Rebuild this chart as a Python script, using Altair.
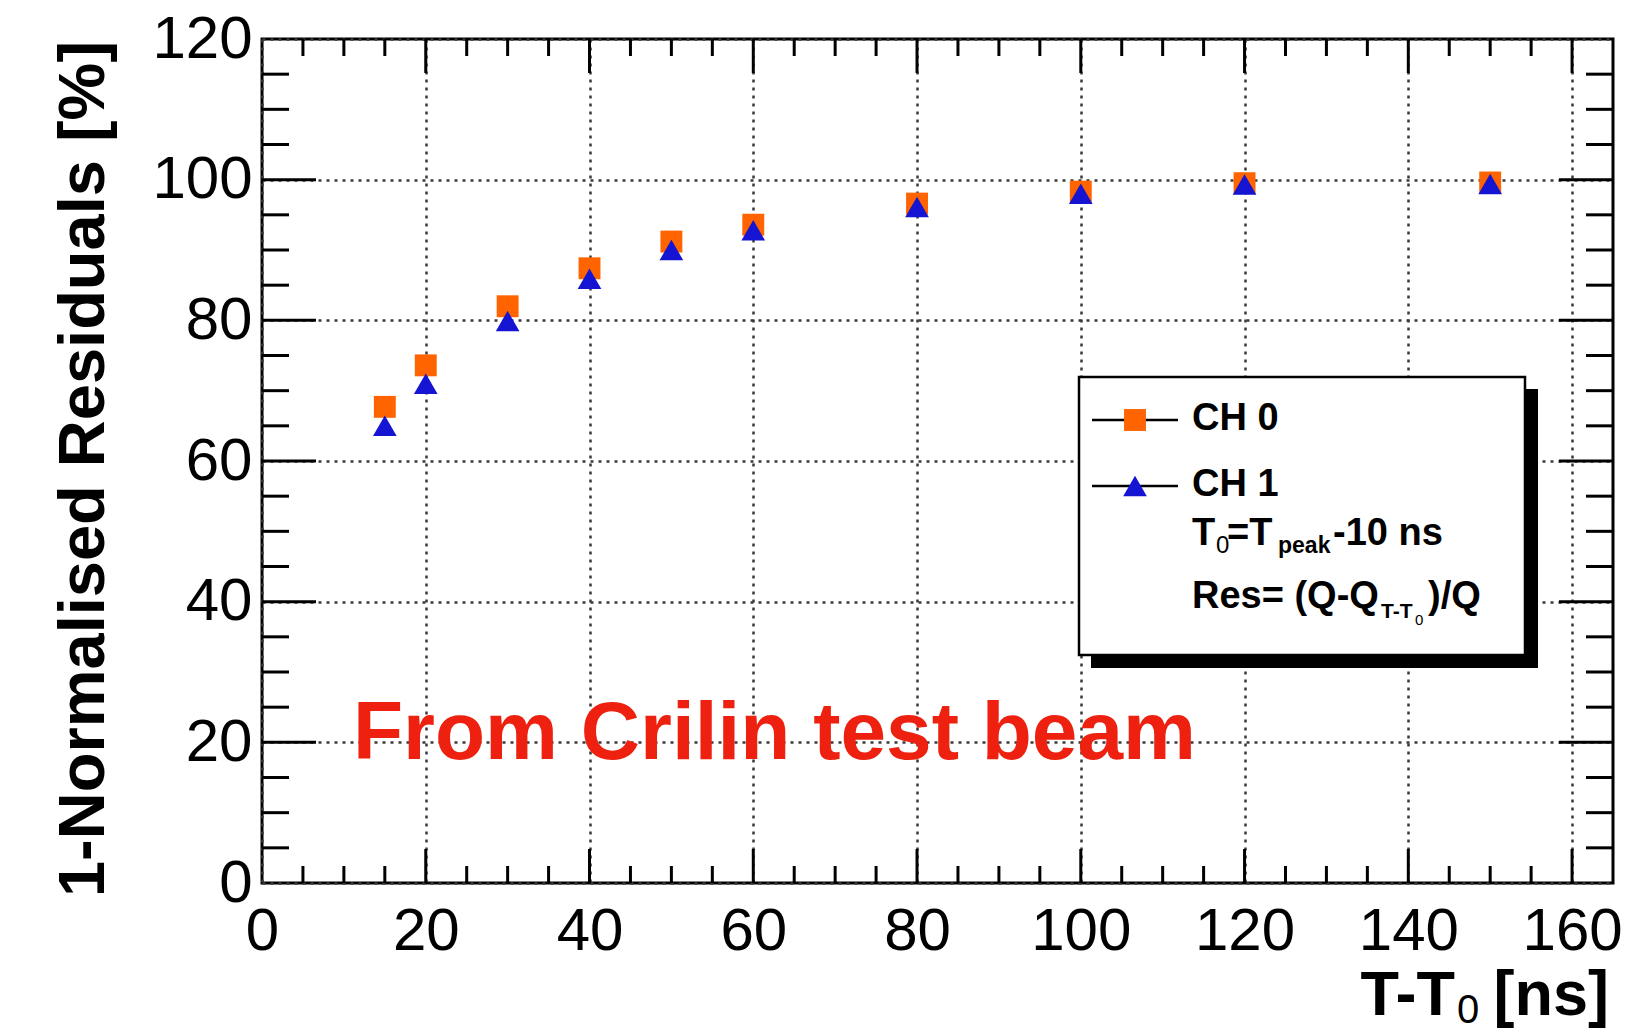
import altair as alt
import pandas as pd

# ---------------- data ----------------
t_ns = [15, 20, 30, 40, 50, 60, 80, 100, 120, 150]
ch0 = [67.7, 73.6, 82.0, 87.4, 91.2, 93.6, 96.6, 98.3, 99.5, 99.6]
ch1 = [65.0, 71.0, 79.9, 85.9, 90.0, 92.8, 96.1, 98.0, 99.3, 99.4]

x_labels = [0, 20, 40, 60, 80, 100, 120, 140, 160]
y_labels = [0, 20, 40, 60, 80, 100, 120]
x_major = [20, 40, 60, 80, 100, 120, 140, 160]
y_major = [20, 40, 60, 80, 100]
x_minor = [v for v in range(5, 165, 5) if v % 20]
y_minor = [v for v in range(5, 120, 5) if v % 20]

ORANGE = "#FF6400"
BLUE = "#1414D2"
RED = "#EE2010"
FONT = "Liberation Sans"

# ---------------- geometry ----------------
OX, OY = 262, 39          # plot origin in page pixels
W, H = 1351, 844          # plot area


def px(x):
    return x - OX


def py(y):
    return y - OY


xscale = alt.Scale(domain=[0, 165], nice=False, zero=False)
yscale = alt.Scale(domain=[0, 120], nice=False, zero=False)

xaxis = alt.Axis(values=x_labels, grid=True, gridDash=[3, 5], gridColor="#3a3a3a",
                 gridWidth=2.5, domain=False, ticks=False, tickSize=0,
                 labelFont=FONT, labelFontSize=60, labelColor="black",
                 labelPadding=66, labelBaseline="alphabetic", labelFlush=False,
                 labelOverlap=False, title=None, format="d")
yaxis = alt.Axis(values=y_labels, grid=True, gridDash=[3, 5], gridColor="#3a3a3a",
                 gridWidth=2.5, domain=False, ticks=False, tickSize=0,
                 labelFont=FONT, labelFontSize=60, labelColor="black",
                 labelPadding=10, labelBaseline="middle", labelFlush=False,
                 labelOverlap=False, title=None, format="d")

df = pd.DataFrame({"t": t_ns, "ch0": ch0, "ch1": ch1})
one = pd.DataFrame({"k": [0]})

squares = alt.Chart(df).mark_point(shape="square", filled=True, size=480,
                                   color=ORANGE, opacity=1, strokeWidth=0).encode(
    x=alt.X("t:Q", scale=xscale, axis=xaxis),
    y=alt.Y("ch0:Q", scale=yscale, axis=yaxis))

triangles = alt.Chart(df).mark_point(shape="triangle-up", filled=True, size=560,
                                     color=BLUE, opacity=1, strokeWidth=0).encode(
    x=alt.X("t:Q", scale=xscale, axis=xaxis),
    y=alt.Y("ch1:Q", scale=yscale, axis=yaxis))


def xticks(vals, length, top):
    d = pd.DataFrame({"v": vals})
    if top:
        y1, y2 = 0, length
    else:
        y1, y2 = H, H - length
    return alt.Chart(d).mark_rule(color="black", strokeWidth=3).encode(
        x=alt.X("v:Q", scale=xscale, axis=xaxis),
        y=alt.value(y1), y2=alt.value(y2))


def yticks(vals, length, right):
    d = pd.DataFrame({"v": vals})
    if right:
        x1, x2 = W, W - length
    else:
        x1, x2 = 0, length
    return alt.Chart(d).mark_rule(color="black", strokeWidth=3).encode(
        y=alt.Y("v:Q", scale=yscale, axis=yaxis),
        x=alt.value(x1), x2=alt.value(x2))


tick_layers = [
    xticks(x_major, 34, False), xticks(x_minor, 17, False),
    xticks(x_major, 34, True), xticks(x_minor, 17, True),
    yticks(y_major, 54, False), yticks(y_minor, 27, False),
    yticks(y_major, 54, True), yticks(y_minor, 27, True),
]


def txt(s, x, y, size, bold=True, align="left", color="black", angle=0):
    kw = dict(text=s, font=FONT, fontSize=size, fontWeight="bold" if bold else "normal",
              align=align, baseline="alphabetic", color=color)
    if angle:
        kw["angle"] = angle
    return alt.Chart(one).mark_text(**kw).encode(x=alt.value(px(x)), y=alt.value(py(y)))


def rect(x1, y1, x2, y2, **kw):
    return alt.Chart(one).mark_rect(**kw).encode(
        x=alt.value(px(x1)), x2=alt.value(px(x2)),
        y=alt.value(py(y1)), y2=alt.value(py(y2)))


def hline(x1, x2, y):
    return alt.Chart(one).mark_rule(color="black", strokeWidth=2.5).encode(
        x=alt.value(px(x1)), x2=alt.value(px(x2)), y=alt.value(py(y)))


def symbol(x, y, shape, size, color):
    return alt.Chart(one).mark_point(shape=shape, filled=True, size=size, color=color,
                                     opacity=1, strokeWidth=0).encode(
        x=alt.value(px(x)), y=alt.value(py(y)))


legend = [
    rect(1091, 389, 1538, 668, color="black"),
    rect(1079, 377, 1525, 655, fill="white", stroke="black", strokeWidth=2.5),
    hline(1092, 1178, 420), symbol(1135, 420, "square", 480, ORANGE),
    hline(1092, 1178, 486), symbol(1135, 486, "triangle-up", 560, BLUE),
    txt("CH 0", 1192, 430, 38),
    txt("CH 1", 1192, 496, 38),
    txt("T", 1192, 545, 38),
    txt("0", 1216, 553, 24, bold=False),
    txt("=T", 1227, 545, 38),
    txt("peak", 1278, 553, 23),
    txt("-10 ns", 1333, 545, 38),
    txt("Res= (Q-Q", 1192, 608, 38),
    txt("T-T", 1381, 618, 21),
    txt("0", 1415, 625, 15, bold=False),
    txt(")/Q", 1428, 608, 38),
]

annotations = [
    txt("From Crilin test beam", 353, 759, 82, color=RED),
    txt("1-Normalised Residuals [%]", 104, 469, 65, align="center", angle=270),
    txt("T-T", 1455, 1015, 63, align="right"),
    txt("0", 1457, 1023, 40, bold=False),
    txt("[ns]", 1609, 1015, 63, align="right"),
]

chart = alt.layer(
    squares, triangles, *tick_layers, *legend, *annotations
).properties(
    width=W, height=H,
    autosize=alt.AutoSizeParams(type="none"),
    padding={"left": OX, "top": OY, "right": 1630 - OX - W, "bottom": 1033 - OY - H},
    background="white",
).configure_view(stroke="black", strokeWidth=3)

chart.save("out.html", embed_options={"renderer": "svg", "actions": False})
